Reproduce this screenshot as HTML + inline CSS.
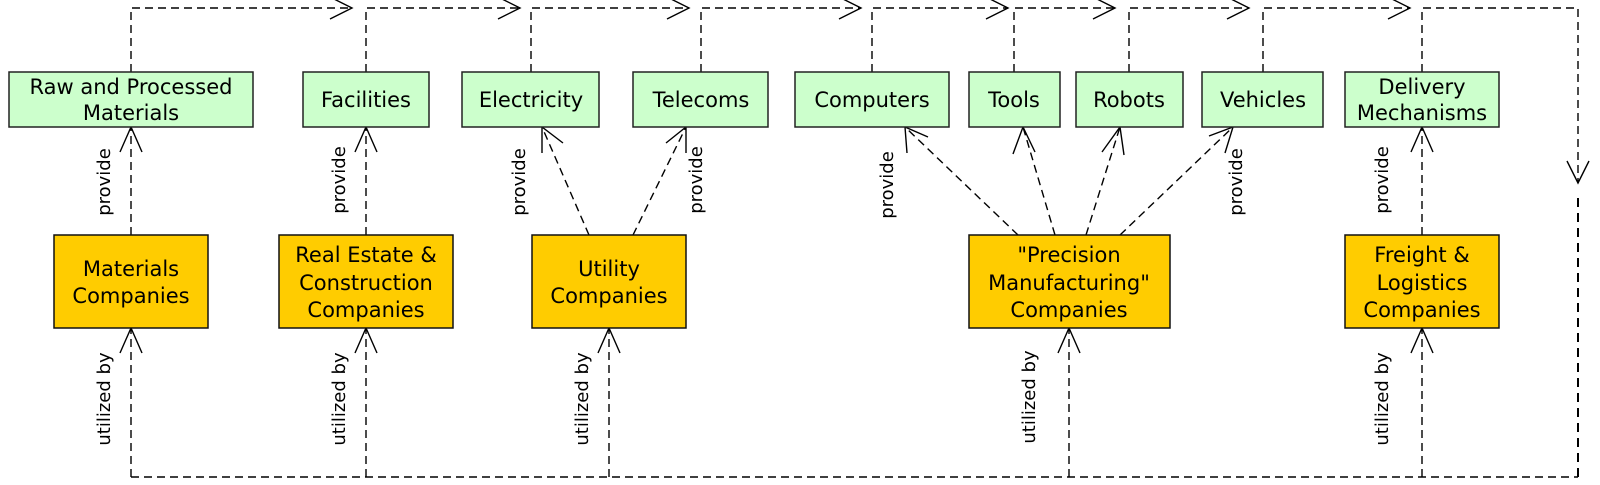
<!DOCTYPE html>
<html><head><meta charset="utf-8"><style>
html,body{margin:0;padding:0;background:#fff;}
svg{display:block;}
text{font-family:"DejaVu Sans","Liberation Sans",sans-serif;fill:#000;}
.bx{font-family:"DejaVu Sans Condensed","DejaVu Sans","Liberation Sans Narrow",sans-serif;}
</style></head><body>
<svg width="1600" height="485" viewBox="0 0 1600 485" xmlns="http://www.w3.org/2000/svg">
<g fill="none" stroke="#000" stroke-width="1.4" stroke-dasharray="8,5">
 <polyline points="131,72 131,8 352,8"/>
 <polyline points="366,72 366,8 520,8"/>
 <polyline points="531,72 531,8 689,8"/>
 <polyline points="701,72 701,8 861,8"/>
 <polyline points="872,72 872,8 1008,8"/>
 <polyline points="1014,72 1014,8 1115,8"/>
 <polyline points="1129,72 1129,8 1249,8"/>
 <polyline points="1263,72 1263,8 1410,8"/>
 <polyline points="1422,72 1422,8 1578,8 1578,183"/>
 <line x1="131" y1="235" x2="131" y2="127"/>
 <line x1="366" y1="235" x2="366" y2="127"/>
 <line x1="589" y1="235" x2="542" y2="127"/>
 <line x1="633" y1="235" x2="686" y2="127"/>
 <line x1="1018" y1="235" x2="905" y2="127"/>
 <line x1="1055" y1="235" x2="1023" y2="127"/>
 <line x1="1086" y1="235" x2="1120" y2="127"/>
 <line x1="1120" y1="235" x2="1233" y2="127"/>
 <line x1="1422" y1="235" x2="1422" y2="127"/>
 <line x1="131" y1="477" x2="131" y2="328"/>
 <line x1="366" y1="477" x2="366" y2="328"/>
 <line x1="609" y1="477" x2="609" y2="328"/>
 <line x1="1069" y1="477" x2="1069" y2="328"/>
 <line x1="1422" y1="477" x2="1422" y2="328"/>
 <line x1="131" y1="477" x2="1578" y2="477"/>
</g>
<line x1="1578" y1="198" x2="1578" y2="477" stroke="#000" stroke-width="2" stroke-dasharray="9,6"/>
<g fill="none" stroke="#000" stroke-width="1.4">
 <polyline points="330,-3 352,8 330,19"/>
 <polyline points="498,-3 520,8 498,19"/>
 <polyline points="667,-3 689,8 667,19"/>
 <polyline points="839,-3 861,8 839,19"/>
 <polyline points="986,-3 1008,8 986,19"/>
 <polyline points="1093,-3 1115,8 1093,19"/>
 <polyline points="1227,-3 1249,8 1227,19"/>
 <polyline points="1388,-3 1410,8 1388,19"/>
 <polyline points="1567,161 1578,183 1589,161"/>
 <polyline points="120,152 131,127 142,152"/>
 <polyline points="355,152 366,127 377,152"/>
 <polyline points="1411,152 1422,127 1433,152"/>
 <polyline points="120,353 131,328 142,353"/>
 <polyline points="355,353 366,328 377,353"/>
 <polyline points="598,353 609,328 620,353"/>
 <polyline points="1058,353 1069,328 1080,353"/>
 <polyline points="1411,353 1422,328 1433,353"/>
 <polyline points="542,153 542,127 563,143"/>
 <polyline points="666,143 686,127 686,153"/>
 <polyline points="907,153 905,127 928,137"/>
 <polyline points="1013,154 1023,127 1035,152"/>
 <polyline points="1102,152 1120,127 1124,155"/>
 <polyline points="1209,136 1233,127 1225,153"/>
</g>
<g fill="#ccffcc" stroke="#222" stroke-width="1.5">
 <rect x="9" y="72" width="244" height="55"/>
 <rect x="303" y="72" width="126" height="55"/>
 <rect x="462" y="72" width="137" height="55"/>
 <rect x="633" y="72" width="135" height="55"/>
 <rect x="795" y="72" width="154" height="55"/>
 <rect x="969" y="72" width="91" height="55"/>
 <rect x="1076" y="72" width="107" height="55"/>
 <rect x="1202" y="72" width="121" height="55"/>
 <rect x="1345" y="72" width="154" height="55"/>
</g>
<g fill="#ffcc00" stroke="#111" stroke-width="1.5">
 <rect x="54" y="235" width="154" height="93"/>
 <rect x="279" y="235" width="174" height="93"/>
 <rect x="532" y="235" width="154" height="93"/>
 <rect x="969" y="235" width="201" height="93"/>
 <rect x="1345" y="235" width="154" height="93"/>
</g>
<g class="bx" font-size="21" text-anchor="middle">
 <text x="131" y="94">Raw and Processed</text>
 <text x="131" y="120">Materials</text>
 <text x="366" y="107">Facilities</text>
 <text x="531" y="107">Electricity</text>
 <text x="701" y="107">Telecoms</text>
 <text x="872" y="107">Computers</text>
 <text x="1014" y="107">Tools</text>
 <text x="1129" y="107">Robots</text>
 <text x="1263" y="107">Vehicles</text>
 <text x="1422" y="94">Delivery</text>
 <text x="1422" y="120">Mechanisms</text>
 <text x="131" y="276">Materials</text>
 <text x="131" y="303">Companies</text>
 <text x="366" y="262">Real Estate &amp;</text>
 <text x="366" y="290">Construction</text>
 <text x="366" y="317">Companies</text>
 <text x="609" y="276">Utility</text>
 <text x="609" y="303">Companies</text>
 <text x="1069" y="262">"Precision</text>
 <text x="1069" y="290">Manufacturing"</text>
 <text x="1069" y="317">Companies</text>
 <text x="1422" y="262">Freight &amp;</text>
 <text x="1422" y="290">Logistics</text>
 <text x="1422" y="317">Companies</text>
</g>
<g font-size="18" text-anchor="middle">
 <text transform="translate(110,182) rotate(-90)">provide</text>
 <text transform="translate(345,180) rotate(-90)">provide</text>
 <text transform="translate(525,182) rotate(-90)">provide</text>
 <text transform="translate(702,180) rotate(-90)">provide</text>
 <text transform="translate(893,185) rotate(-90)">provide</text>
 <text transform="translate(1242,182) rotate(-90)">provide</text>
 <text transform="translate(1388,180) rotate(-90)">provide</text>
 <text transform="translate(110,399) rotate(-90)">utilized by</text>
 <text transform="translate(345,399) rotate(-90)">utilized by</text>
 <text transform="translate(588,399) rotate(-90)">utilized by</text>
 <text transform="translate(1035,397) rotate(-90)">utilized by</text>
 <text transform="translate(1388,399) rotate(-90)">utilized by</text>
</g>
</svg>
</body></html>
